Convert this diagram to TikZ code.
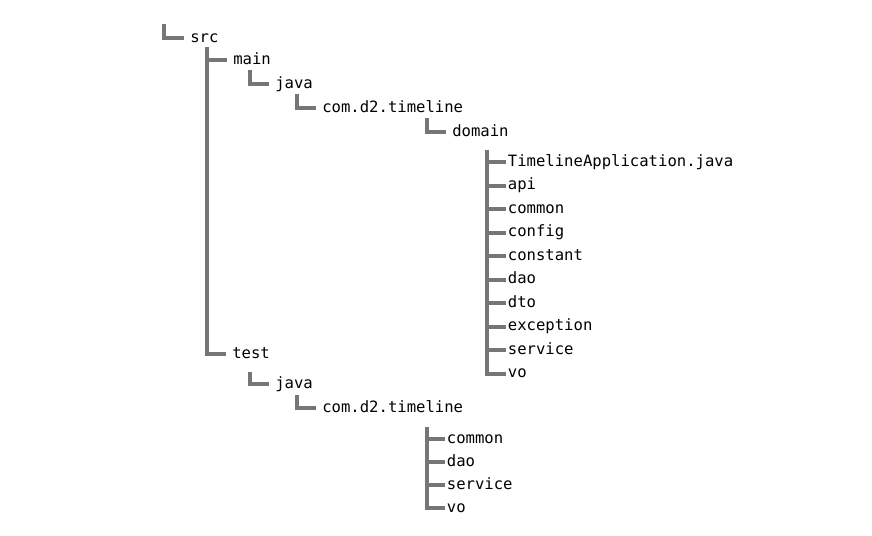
\documentclass[tikz,border=0pt]{standalone}
\usepackage{fontspec}
\setmonofont{DejaVu Sans Mono}
\definecolor{treegray}{HTML}{767676}

\begin{document}
\begin{tikzpicture}[
  x=0.75pt,y=-0.75pt,
  dir/.style={anchor=west,inner xsep=4.5pt,inner ysep=0pt,text height=9pt,text depth=2.6pt,
    font=\ttfamily\fontsize{11.7}{14}\selectfont},
  leaf/.style={dir,inner xsep=1.2pt},
  link/.style={draw=treegray,line width=3pt},
]
\useasboundingbox (0,0) rectangle (872,536);

% === Folders ===
\node[dir] (src) at (184,38) {src};
\node[dir] (main) at (227,60) {main};
\node[dir] (mjava) at (269,84) {java};
\node[dir] (mcom) at (316,108) {com.d2.timeline};
\node[dir] (domain) at (446,132) {domain};
\node[dir] (test) at (226,354) {test};
\node[dir] (tjava) at (269,384) {java};
\node[dir] (tcom) at (316,408) {com.d2.timeline};

% === Branch tops ===
\coordinate (root) at (164,24);
\coordinate (srctop) at (207,47);
\coordinate (mjavatop) at (250,70);
\coordinate (mcomtop) at (297,94);
\coordinate (domaintop) at (427,118);
\coordinate (dleaftop) at (487,150);
\coordinate (tjavatop) at (250,372);
\coordinate (tcomtop) at (297,395);
\coordinate (tleaftop) at (427,427);

% === Elbows ===
\draw[link] (root) |- (src.west);
\draw[link] (srctop) |- (main.west);
\draw[link] (srctop) |- (test.west);
\draw[link] (mjavatop) |- (mjava.west);
\draw[link] (mcomtop) |- (mcom.west);
\draw[link] (domaintop) |- (domain.west);
\draw[link] (tjavatop) |- (tjava.west);
\draw[link] (tcomtop) |- (tcom.west);

% === domain contents ===
\foreach \name/\y/\txt in {app/162/TimelineApplication.java, api/185.5/api,
  dcommon/209/common, config/232.5/config, constant/256/constant, ddao/279.5/dao,
  dto/303/dto, exception/326.5/exception, dservice/350/service, dvo/373.5/vo}{
  \node[leaf] (\name) at (506,\y) {\txt};
  \draw[link] (dleaftop) |- (\name.west);
}

% === test contents ===
\foreach \name/\y/\txt in {tcommon/439/common, tdao/462/dao, tservice/485/service, tvo/508/vo}{
  \node[leaf] (\name) at (445,\y) {\txt};
  \draw[link] (tleaftop) |- (\name.west);
}

\end{tikzpicture}
\end{document}
